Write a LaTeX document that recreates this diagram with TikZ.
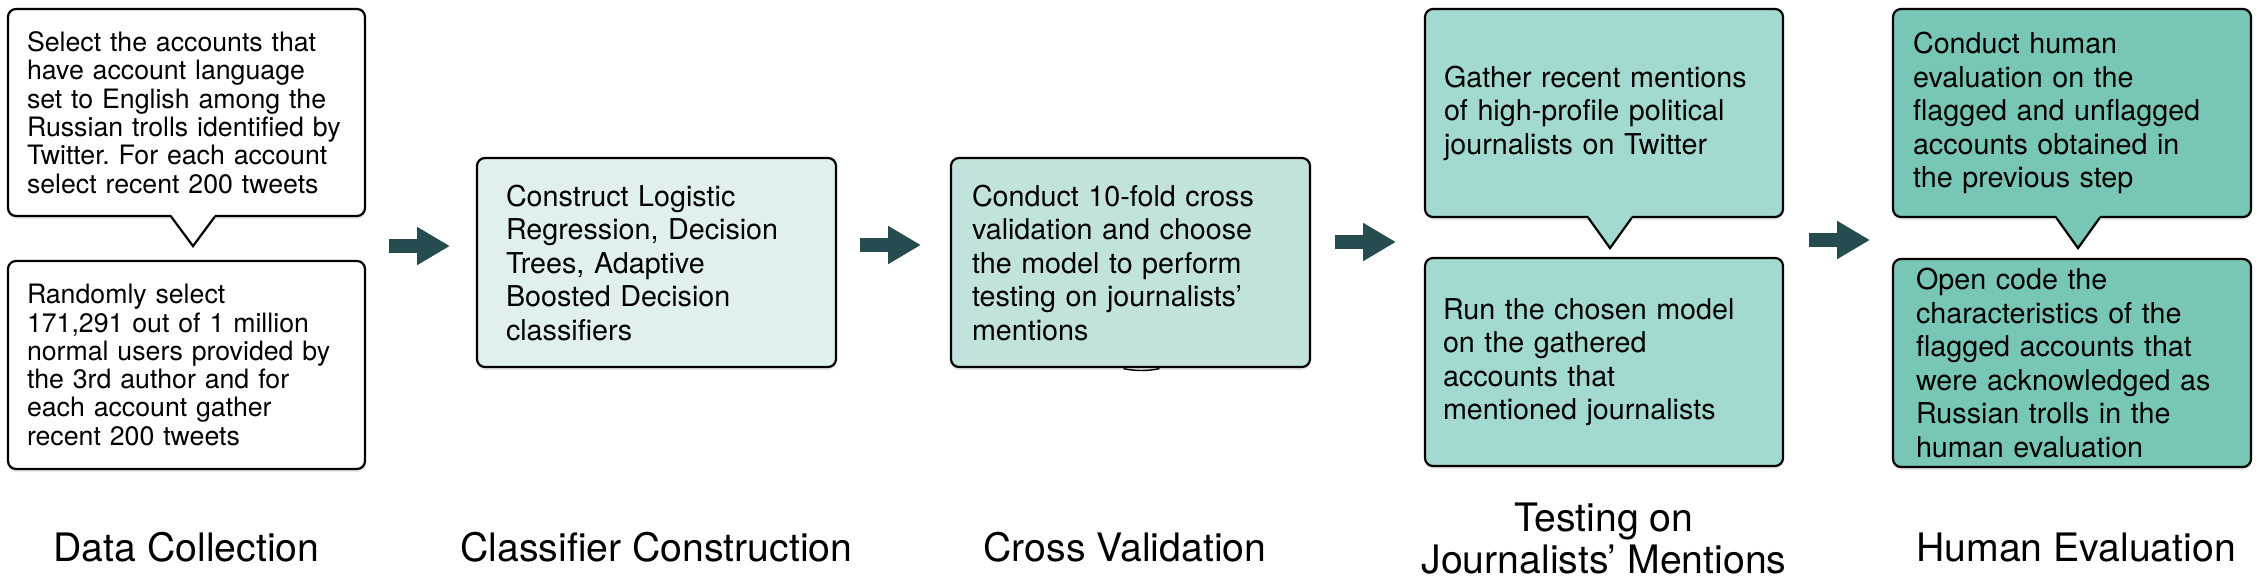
\documentclass[tikz,border=0pt]{standalone}
\usepackage{fontspec}
\setmainfont{TeX Gyre Heros}
\frenchspacing
\usetikzlibrary{arrows.meta,calc,shadows}
\definecolor{arrowcol}{HTML}{264C4F}
\definecolor{fillA}{HTML}{FFFFFF}
\definecolor{fillB}{HTML}{E0F0EE}
\definecolor{fillC}{HTML}{C2E3DD}
\definecolor{fillD}{HTML}{A2D9D0}
\definecolor{fillE}{HTML}{78C6B6}
\tikzset{
  boxbase/.style={draw=black, line width=1.1pt, rounded corners=4pt, align=left,
    inner ysep=0pt, minimum width=179pt, minimum height=104pt,
    drop shadow={opacity=0.18, shadow xshift=0pt, shadow yshift=-1.5pt}},
  smalltxt/.style={font=\fontsize{13.35pt}{14.15pt}\selectfont},
  bigtxt/.style={font=\fontsize{14.35pt}{16.75pt}\selectfont},
  lab/.style={font=\fontsize{19.6pt}{21.3pt}\selectfont, anchor=base, inner sep=0pt},
  bigarrow/.style={draw=arrowcol, line width=7pt, -{Triangle[length=16.5pt,width=18pt]}},
  notch/.style={draw=black, line width=1.1pt, line cap=round, line join=miter},
}
\begin{document}
\begin{tikzpicture}[x=0.5pt,y=-0.5pt]
\useasboundingbox (0,0) rectangle (2262,584);

% boxes
\node[boxbase, smalltxt, fill=fillA, text width=159.5pt, inner xsep=9.5pt, minimum width=178.5pt, minimum height=103.5pt] (b1) at (186.5,112.5)
 {Select the accounts that\\have account language\\set to English among the\\Russian trolls identified by\\Twitter. For each account\\select recent 200 tweets};
\node[boxbase, smalltxt, fill=fillA, text width=159.5pt, inner xsep=9.5pt, minimum width=178.5pt, minimum height=104pt] (b2) at (186.5,365)
 {Randomly select\\171,291 out of 1 million\\normal users provided by\\the 3rd author and for\\each account gather\\recent 200 tweets};
\node[boxbase, bigtxt, fill=fillB, text width=150.5pt, inner xsep=14.5pt, minimum width=179.5pt, minimum height=104.5pt] (b3) at (656.5,262.5)
 {Construct Logistic\\Regression, Decision\\Trees, Adaptive\\Boosted Decision\\classifiers};
\node[boxbase, bigtxt, fill=fillC, text width=158.5pt, inner xsep=10.5pt, minimum width=179.5pt, minimum height=104.5pt] (b4) at (1130.5,262.5)
 {Conduct 10-fold cross\\validation and choose\\the model to perform\\testing on journalists’\\mentions};
\node[boxbase, bigtxt, fill=fillD, text width=160pt, inner xsep=9.5pt, minimum width=179pt, minimum height=104pt] (b5) at (1604,113)
 {Gather recent mentions\\of high-profile political\\journalists on Twitter};
\node[boxbase, bigtxt, fill=fillD, text width=161pt, inner xsep=9pt, minimum width=179pt, minimum height=104pt] (b6) at (1604,362)
 {Run the chosen model\\on the gathered\\accounts that\\mentioned journalists};
\node[boxbase, bigtxt, fill=fillE, text width=159pt, inner xsep=10pt, minimum width=179pt, minimum height=104pt] (b7) at (2072,113)
 {Conduct human\\evaluation on the\\flagged and unflagged\\accounts obtained in\\the previous step};
\node[boxbase, bigtxt, fill=fillE, text width=156pt, inner xsep=11.5pt, minimum width=179pt, minimum height=104pt] (b8) at (2072,363)
 {Open code the\\characteristics of the\\flagged accounts that\\were acknowledged as\\Russian trolls in the\\human evaluation};

% callout pointers (from upper box towards lower box)
\foreach \b/\c/\dx/\dy in {b1/fillA/6.5/29, b5/fillD/6/30, b7/fillE/6/30}{
  \fill[\c] ($(\b.south)+(\dx-21.5,-3)$) -- ($(\b.south)+(\dx-21.5,0)$) -- ($(\b.south)+(\dx,\dy)$)
     -- ($(\b.south)+(\dx+21.5,0)$) -- ($(\b.south)+(\dx+21.5,-3)$) -- cycle;
  \draw[notch] ($(\b.south)+(\dx-21.5,0)$) -- ($(\b.south)+(\dx,\dy)$) -- ($(\b.south)+(\dx+21.5,0)$);
}
% small bump under cross-validation box
\draw[line width=0.7pt] ($(b4.south)+(-7,0.5)$) .. controls ($(b4.south)+(4,3)$) and ($(b4.south)+(18,3)$) .. ($(b4.south)+(29,0.5)$);

% arrows
\coordinate (a1s) at (389,246);  \coordinate (a1e) at (450,246);
\coordinate (a2s) at (860,245);  \coordinate (a2e) at (921,245);
\coordinate (a3s) at (1335,242); \coordinate (a3e) at (1396,242);
\coordinate (a4s) at (1809,240); \coordinate (a4e) at (1870,240);
\draw[bigarrow] (a1s) -- (a1e);
\draw[bigarrow] (a2s) -- (a2e);
\draw[bigarrow] (a3s) -- (a3e);
\draw[bigarrow] (a4s) -- (a4e);

% labels
\node[lab] (l1) at (186.5,561) {Data Collection};
\node[lab] (l2) at (656.5,561) {Classifier Construction};
\node[lab] (l3) at (1125,561) {Cross Validation};
\node[lab] (l4a) at (1604,531) {Testing on};
\node[lab] (l4b) at (1604,573) {Journalists’ Mentions};
\node[lab] (l5) at (2076,561) {Human Evaluation};
\end{tikzpicture}
\end{document}
